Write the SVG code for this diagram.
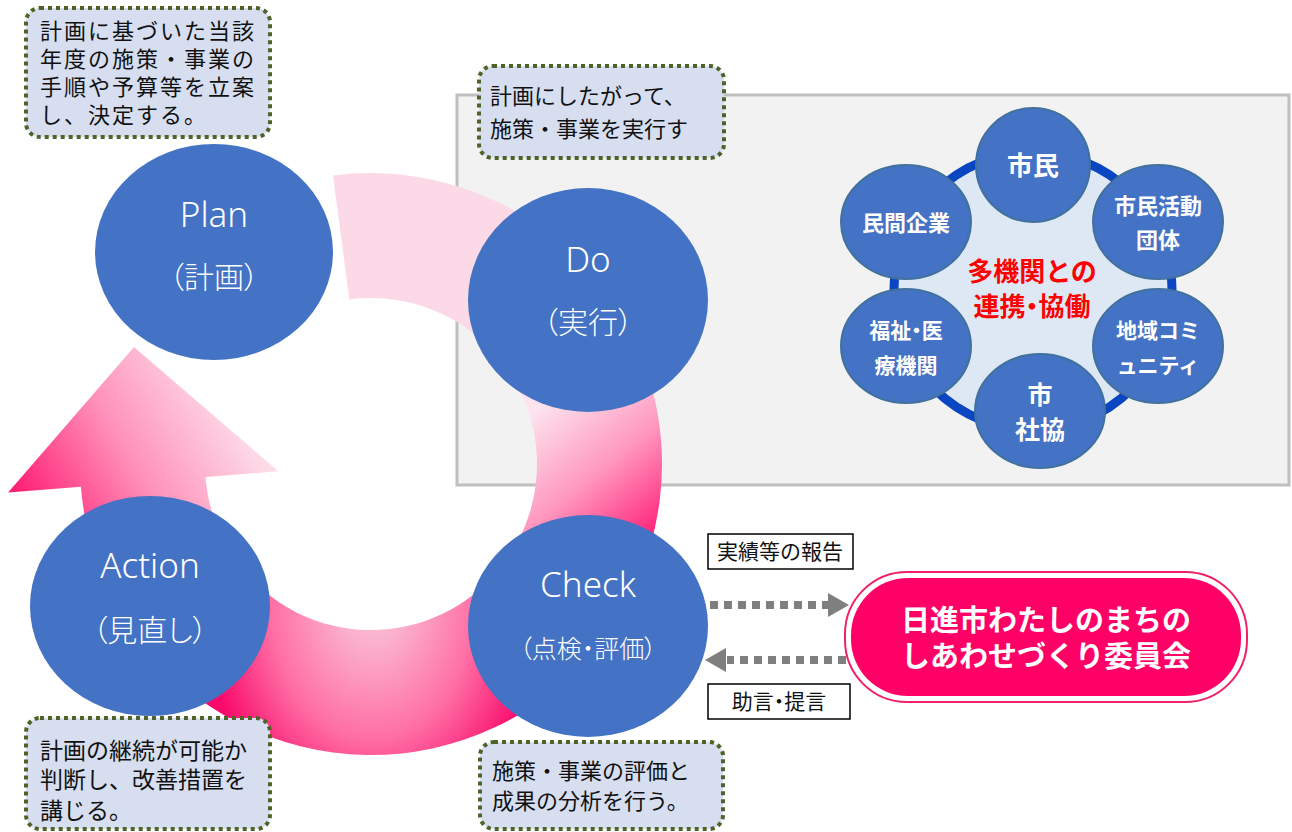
<svg xmlns="http://www.w3.org/2000/svg" width="1292" height="832" viewBox="0 0 1292 832">
<defs>
<style>
.jp{font-family:"Noto Sans CJK JP","Noto Sans",sans-serif;}
.lat{font-family:"Noto Sans","Noto Sans CJK JP",sans-serif;font-weight:300;}
.big{fill:#4472C4;}
.cl{fill:#ffffff;font-size:35px;text-anchor:middle;}
.cs{fill:#ffffff;font-size:30px;text-anchor:middle;font-feature-settings:"palt";font-weight:300;}
.note{fill:#D6DEF0;stroke:#4F6228;stroke-width:4;stroke-dasharray:4 4;}
.nt{fill:#111111;}
.nd{fill:#4472C4;stroke:#41719C;stroke-width:2;}
.ndt{fill:#ffffff;font-weight:700;text-anchor:middle;}
.lbl{fill:#ffffff;stroke:#000000;stroke-width:1.5;}
.lt{fill:#111111;font-size:21px;text-anchor:middle;}
.dash{stroke:#7F7F7F;stroke-width:8;stroke-dasharray:8 6;fill:none;}
.head{fill:#7F7F7F;}
.palt{font-feature-settings:"palt";}
</style>
<linearGradient id="gB" gradientUnits="userSpaceOnUse" x1="555" y1="395" x2="665" y2="530">
<stop offset="0" stop-color="#FDE3EE"/>
<stop offset="0.5" stop-color="#FF97BE"/>
<stop offset="1" stop-color="#FF1F78"/>
</linearGradient>
<radialGradient id="gC" gradientUnits="userSpaceOnUse" cx="373" cy="600" r="200" gradientTransform="translate(373 600) scale(0.85 1.15) translate(-373 -600)">
<stop offset="0" stop-color="#FBC3D8"/>
<stop offset="0.2" stop-color="#FBB0CC"/>
<stop offset="0.6" stop-color="#FF6FA5"/>
<stop offset="1" stop-color="#F80A6A"/>
</radialGradient>
<linearGradient id="gD" gradientUnits="userSpaceOnUse" x1="230" y1="400" x2="30" y2="520">
<stop offset="0" stop-color="#FDDDE9"/>
<stop offset="0.5" stop-color="#FF90B8"/>
<stop offset="1" stop-color="#FF1C74"/>
</linearGradient>
</defs>

<rect width="1292" height="832" fill="#ffffff"/>

<g id="panel">
<rect x="457" y="95" width="832" height="390" fill="#F2F2F2" stroke="#BFBFBF" stroke-width="3"/>
</g>

<g id="cycle-arrow">
<path d="M333.0,175.5 A291,291 0 0,1 623.0,318.5 L514.8,381.0 A166,166 0 0,0 349.3,299.4 Z" fill="#FCD9E6"/>
<path d="M623.0,318.5 A291,291 0 0,1 576.8,669.8 L488.4,581.4 A166,166 0 0,0 514.8,381.0 Z" fill="url(#gB)"/>
<path d="M576.8,669.8 A291,291 0 0,1 119.0,609.5 L227.2,547.0 A166,166 0 0,0 488.4,581.4 Z" fill="url(#gC)"/>
<path d="M119.0,609.5 A291,291 0 0,1 80.9,486.8 L8.1,492.6 L134,347 L278.3,471.3 L205.5,477.0 A166,166 0 0,0 227.2,547.0 Z" fill="url(#gD)"/>
</g>

<g id="plan">
<ellipse class="big" cx="214" cy="252" rx="119" ry="108"/>
<text class="lat cl" x="214" y="227">Plan</text>
<text class="jp cs" x="214" y="288">（計画）</text>
</g>
<g id="do">
<ellipse class="big" cx="588" cy="300" rx="120" ry="112"/>
<text class="lat cl" x="588" y="272">Do</text>
<text class="jp cs" x="588" y="333">（実行）</text>
</g>
<g id="check">
<ellipse class="big" cx="588" cy="626" rx="120" ry="111"/>
<text class="lat cl" x="588" y="597">Check</text>
<text class="jp cs" x="588" y="658" style="font-size:25px">（点検・評価）</text>
</g>
<g id="action">
<ellipse class="big" cx="150" cy="606" rx="120" ry="110"/>
<text class="lat cl" x="150" y="578">Action</text>
<text class="jp cs" x="150" y="641">（見直し）</text>
</g>

<g id="note-plan">
<rect class="note" x="26" y="8" width="244" height="129" rx="14"/>
<text class="jp nt" font-size="22" letter-spacing="2"><tspan x="40" y="39">計画に基づいた当該</tspan><tspan x="40" y="67">年度の施策・事業の</tspan><tspan x="40" y="95">手順や予算等を立案</tspan><tspan x="40" y="123">し、決定する。</tspan></text>
</g>
<g id="note-do">
<rect class="note" x="479" y="66" width="245" height="92" rx="14"/>
<text class="jp nt" font-size="22"><tspan x="490" y="104">計画にしたがって、</tspan><tspan x="490" y="137">施策・事業を実行す</tspan></text>
</g>
<g id="note-action">
<rect class="note" x="26" y="718" width="244" height="111" rx="14"/>
<text class="jp nt" font-size="23"><tspan x="40" y="759">計画の継続が可能か</tspan><tspan x="40" y="788">判断し、改善措置を</tspan><tspan x="40" y="819">講じる。</tspan></text>
</g>
<g id="note-check">
<rect class="note" x="480" y="742" width="243" height="87" rx="14"/>
<text class="jp nt" font-size="22"><tspan x="492" y="779">施策・事業の評価と</tspan><tspan x="492" y="809">成果の分析を行う。</tspan></text>
</g>

<g id="network">
<circle cx="1033" cy="291" r="139" fill="#DEE8F4" stroke="#0A46C2" stroke-width="9"/>
<text class="jp" x="1032" y="281" font-size="26" font-weight="700" fill="#FF0000" text-anchor="middle">多機関との</text>
<text class="jp palt" x="1032" y="316" font-size="26" font-weight="700" fill="#FF0000" text-anchor="middle">連携・協働</text>
</g>
<g id="node-shimin">
<ellipse class="nd" cx="1033" cy="165" rx="57" ry="57"/>
<text class="jp ndt" x="1033" y="175" font-size="26">市民</text>
</g>
<g id="node-katsudo">
<ellipse class="nd" cx="1158" cy="222" rx="65" ry="57"/>
<text class="jp ndt" font-size="22"><tspan x="1158" y="214">市民活動</tspan><tspan x="1158" y="248">団体</tspan></text>
</g>
<g id="node-community">
<ellipse class="nd" cx="1158" cy="346" rx="65" ry="57"/>
<text class="jp ndt" font-size="21"><tspan x="1158" y="338">地域コミ</tspan><tspan x="1158" y="373">ュニティ</tspan></text>
</g>
<g id="node-shakyo">
<ellipse class="nd" cx="1040" cy="411" rx="65" ry="57"/>
<text class="jp ndt" font-size="25"><tspan x="1040" y="404">市</tspan><tspan x="1040" y="439">社協</tspan></text>
</g>
<g id="node-fukushi">
<ellipse class="nd" cx="906" cy="346" rx="65" ry="57"/>
<text class="jp ndt" font-size="21"><tspan x="906" y="338" class="palt">福祉・医</tspan><tspan x="906" y="373">療機関</tspan></text>
</g>
<g id="node-kigyo">
<ellipse class="nd" cx="906" cy="222" rx="65" ry="57"/>
<text class="jp ndt" x="906" y="231" font-size="22">民間企業</text>
</g>

<g id="committee">
<rect x="845" y="572" width="402" height="130" rx="62" fill="#ffffff" stroke="#F0206A" stroke-width="2"/>
<rect x="851" y="578" width="390" height="118" rx="57" fill="#FF0066"/>
<text class="jp" font-size="29" font-weight="700" fill="#ffffff" text-anchor="middle"><tspan x="1046" y="631">日進市わたしのまちの</tspan><tspan x="1046" y="667">しあわせづくり委員会</tspan></text>
</g>

<g id="label-report">
<rect class="lbl" x="708" y="534" width="145" height="35"/>
<text class="jp lt" x="780" y="559">実績等の報告</text>
</g>
<g id="label-advice">
<rect class="lbl" x="708" y="684" width="142" height="35"/>
<text class="jp lt palt" x="779" y="709">助言・提言</text>
</g>

<g id="connectors">
<line class="dash" x1="710" y1="605" x2="828" y2="605"/>
<polygon class="head" points="828,593 849,605 828,617"/>
<line class="dash" x1="846" y1="660" x2="727" y2="660"/>
<polygon class="head" points="726,648 705,660 726,672"/>
</g>
</svg>
